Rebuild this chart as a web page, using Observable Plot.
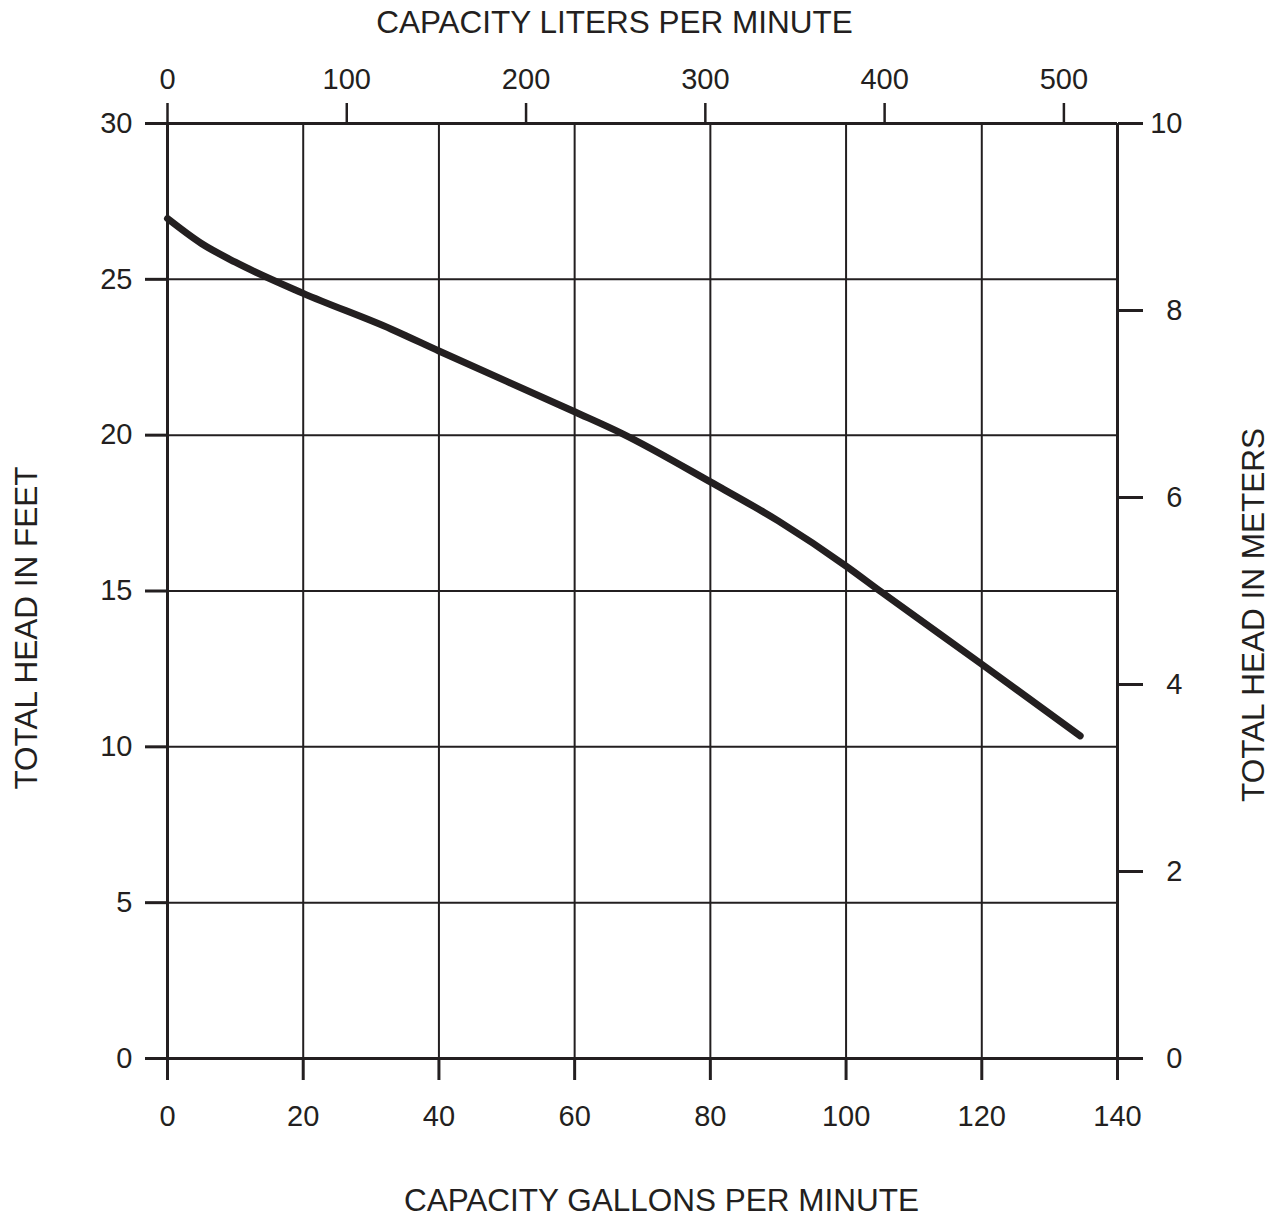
<!DOCTYPE html>
<html>
<head>
<meta charset="utf-8">
<script src="https://cdn.jsdelivr.net/npm/d3@7"></script>
<script src="https://cdn.jsdelivr.net/npm/@observablehq/plot@0.6"></script>
<style>
  html, body { margin: 0; padding: 0; background: #fff; }
  #chart svg { display: block; }
</style>
</head>
<body>
<div id="chart"></div>
<script>
// Pump performance curve: capacity (gallons per minute) vs total head (feet)
const gpm    = [0, 5, 10, 20, 33, 40, 60, 67, 80, 90, 100, 105, 120, 134.5];
const headFt = [26.95, 26.15, 25.55, 24.55, 23.4, 22.7, 20.75, 20.05, 18.5, 17.25, 15.8, 15.0, 12.65, 10.35];

const gpmTicks   = [0, 20, 40, 60, 80, 100, 120, 140];
const ftTicks    = [0, 5, 10, 15, 20, 25, 30];
const literTicks = [0, 100, 200, 300, 400, 500];
const meterTicks = [0, 2, 4, 6, 8, 10];

const LITERS_PER_GALLON = 3.785;
const CHART_FT_PER_M = 3; // the chart's right axis puts 10 m level with 30 ft

const ink = "#231f20";
const font = "'Liberation Sans', Arial, sans-serif";
const tickFont = 29;
const titleFont = 31.5;

const curve = gpm.map((g, i) => ({gpm: g, ft: headFt[i]}));

const chart = Plot.plot({
  width: 1284,
  height: 1222,
  marginLeft: 167,
  marginRight: 167,
  marginTop: 123,
  marginBottom: 164,
  x: {domain: [0, 140]},
  y: {domain: [0, 30]},
  style: {fontFamily: font, fontSize: tickFont + "px", color: ink, background: "#fff"},
  marks: [
    Plot.gridX(gpmTicks.slice(1, -1), {stroke: ink, strokeOpacity: 1, strokeWidth: 2}),
    Plot.gridY(ftTicks.slice(1, -1), {stroke: ink, strokeOpacity: 1, strokeWidth: 2}),
    Plot.ruleX([0, 140], {stroke: ink, strokeWidth: 3}),
    Plot.ruleY([0, 30], {stroke: ink, strokeWidth: 3}),
    Plot.axisX(gpmTicks, {anchor: "bottom", tickSize: 22, tickPadding: 25, strokeWidth: 3, label: null, fill: ink, fontSize: tickFont}),
    Plot.axisY(ftTicks, {anchor: "left", tickSize: 22, tickPadding: 13, strokeWidth: 3, label: null, fill: ink, fontSize: tickFont}),
    Plot.axisX(literTicks.map(l => l / LITERS_PER_GALLON), {
      anchor: "top", tickSize: 21, tickPadding: 14, strokeWidth: 2.5, label: null, fill: ink, fontSize: tickFont,
      tickFormat: d => String(Math.round(d * LITERS_PER_GALLON))
    }),
    Plot.axisY(meterTicks.map(m => m * CHART_FT_PER_M), {
      anchor: "right", tickSize: 25, tickPadding: 40, strokeWidth: 3, label: null, fill: ink, fontSize: tickFont,
      textAnchor: "end",
      tickFormat: d => String(Math.round(d / CHART_FT_PER_M))
    }),
    Plot.line(curve, {x: "gpm", y: "ft", stroke: ink, strokeWidth: 7, curve: "monotone-x", strokeLinecap: "round"}),
    Plot.text(["CAPACITY LITERS PER MINUTE"], {frameAnchor: "top", textAnchor: "middle", dx: -28, dy: -113, fontSize: titleFont, fill: ink}),
    Plot.text(["CAPACITY GALLONS PER MINUTE"], {frameAnchor: "bottom", textAnchor: "middle", dx: 19, dy: 152, fontSize: titleFont, fill: ink}),
    Plot.text(["TOTAL HEAD IN FEET"], {frameAnchor: "left", textAnchor: "middle", rotate: -90, dx: -141, dy: 37, fontSize: titleFont, fill: ink}),
    Plot.text(["TOTAL HEAD IN METERS"], {frameAnchor: "right", textAnchor: "middle", rotate: -90, dx: 136, dy: 24, fontSize: titleFont, fill: ink})
  ]
});

document.getElementById("chart").appendChild(chart);
</script>
</body>
</html>
